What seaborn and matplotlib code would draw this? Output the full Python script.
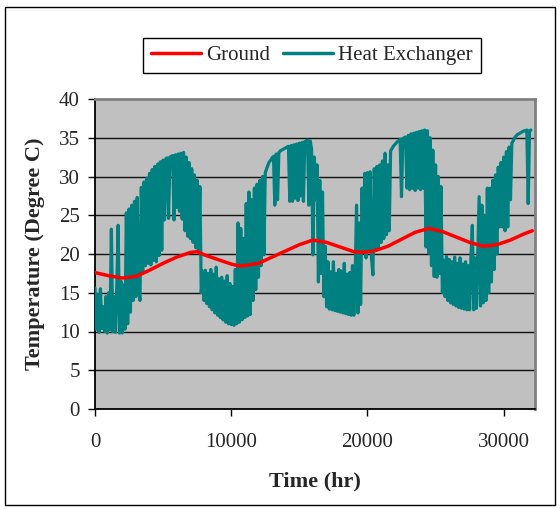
import numpy as np
import pandas as pd
import matplotlib
matplotlib.use("Agg")
import matplotlib.pyplot as plt
from matplotlib.patches import Rectangle
import seaborn as sns

# ---------------- data ----------------
ground_hours = [0, 1000, 2000, 3000, 4000, 5000, 6000, 7000, 7500, 8000,
                9000, 10000, 10500, 11000, 12000, 13000, 14000, 15000, 16000, 17000,
                18000, 19000, 19700, 20500, 21500, 22500, 23500, 24500, 25500, 26500,
                27500, 28500, 29500, 30500, 31500, 32100]
ground_temp = [17.6, 17.2, 16.9, 17.1, 17.9, 18.8, 19.6, 20.2, 20.3, 19.9,
               19.3, 18.7, 18.5, 18.5, 18.8, 19.6, 20.4, 21.2, 21.8, 21.5,
               20.9, 20.3, 20.2, 20.4, 21.0, 21.9, 22.8, 23.3, 22.9, 22.2,
               21.5, 21.0, 21.2, 21.8, 22.6, 23.0]

# heat exchanger temperature, one reading every 100 hours
hx_step_hours = 100
hx_temp = [
    15.6, 10.3, 14.8, 9.9, 15.5, 10.4, 13.2, 10.0, 14.5, 9.8,
    15.0, 10.2, 23.2, 10.0, 14.5, 9.9, 15.8, 23.7, 9.8, 16.5,
    9.8, 16.0, 10.3, 25.3, 11.0, 25.8, 12.5, 26.3, 14.0, 26.8,
    14.5, 27.3, 15.5, 14.0, 28.6, 17.5, 29.3, 18.5, 29.8, 18.8,
    30.4, 18.6, 30.9, 19.2, 31.3, 19.0, 31.6, 19.8, 31.9, 20.5,
    32.1, 24.4, 32.3, 32.4, 24.6, 32.5, 32.6, 32.7, 24.4, 32.8,
    26.0, 32.9, 25.5, 33.0, 24.5, 33.1, 23.0, 32.5, 22.3, 31.8,
    22.0, 31.0, 21.5, 30.2, 20.8, 29.5, 20.5, 28.7, 15.0, 17.8,
    14.0, 17.9, 13.6, 17.5, 13.2, 18.0, 12.8, 17.4, 12.4, 18.3,
    12.1, 16.8, 11.8, 17.0, 11.5, 16.5, 11.2, 17.2, 11.0, 16.2,
    10.9, 15.8, 10.8, 18.0, 11.0, 24.0, 11.2, 23.3, 11.5, 22.0,
    11.8, 26.5, 12.0, 28.0, 12.2, 27.0, 14.0, 28.5, 15.4, 29.0,
    17.0, 29.5, 18.5, 30.0, 19.9, 30.5, 31.0, 31.5, 31.9, 32.1,
    32.4, 32.6, 26.3, 32.9, 27.0, 33.1, 33.3, 33.4, 33.5, 33.6,
    33.7, 33.8, 33.9, 26.8, 34.0, 26.8, 34.1, 27.2, 34.2, 26.9,
    34.3, 27.5, 34.4, 26.8, 34.5, 34.6, 34.7, 26.3, 34.6, 33.5,
    19.9, 32.5, 27.0, 31.5, 16.4, 29.5, 17.5, 28.0, 14.5, 21.0,
    13.2, 19.0, 12.9, 17.7, 12.8, 19.0, 12.7, 17.5, 12.6, 18.0,
    12.5, 17.8, 12.4, 18.8, 12.3, 17.4, 12.2, 17.6, 12.1, 18.5,
    12.1, 17.0, 26.3, 12.4, 24.0, 13.5, 28.5, 20.5, 30.4, 19.5,
    30.5, 20.5, 30.6, 19.5, 17.3, 31.0, 20.5, 31.3, 20.8, 31.5,
    21.5, 32.0, 22.0, 33.0, 22.5, 31.5, 23.0, 33.3, 33.6, 33.9,
    34.1, 34.3, 34.5, 34.6, 34.8, 27.4, 34.9, 35.0, 35.1, 28.5,
    35.3, 28.3, 35.5, 28.5, 35.6, 28.2, 35.7, 28.5, 35.8, 28.3,
    35.9, 28.5, 36.0, 20.9, 35.9, 20.1, 35.0, 18.5, 33.4, 17.1,
    31.5, 17.0, 30.0, 17.5, 28.7, 15.0, 19.2, 14.5, 19.7, 14.0,
    19.3, 13.7, 19.0, 13.5, 19.6, 13.3, 18.8, 13.1, 19.5, 13.0,
    18.7, 12.9, 19.0, 12.8, 18.5, 12.8, 19.7, 23.7, 12.8, 19.5,
    13.0, 20.0, 27.4, 13.3, 26.3, 13.7, 25.0, 14.0, 28.5, 15.0,
    28.5, 16.4, 29.5, 18.0, 30.2, 20.0, 31.2, 23.5, 31.8, 23.5,
    32.5, 23.0, 33.2, 23.5, 33.8, 27.0, 34.3, 34.6, 35.0, 35.2,
    35.4, 35.5, 35.6, 35.7, 35.8, 35.9, 35.9, 36.0, 26.5, 35.9,
    36.0,
]
hx_hours = np.arange(len(hx_temp)) * hx_step_hours

series_names = ["Ground", "Heat Exchanger"]
series_colors = ["#FF0000", "#008080"]
x_ticks = [0, 10000, 20000, 30000]
y_ticks = [0, 5, 10, 15, 20, 25, 30, 35, 40]

# ---------------- style ----------------
sns.set_style("white")
plt.rcParams["font.family"] = ["Liberation Serif", "DejaVu Serif"]

W, H = 560, 509
fig = plt.figure(figsize=(W / 100, H / 100), dpi=100)
ax = fig.add_axes([95 / W, 1 - 409 / H, (535 - 95) / W, (409 - 99) / H])
ax.set_facecolor("#C0C0C0")

df_hx = pd.DataFrame({"hours": hx_hours, "temp": hx_temp})
df_gr = pd.DataFrame({"hours": ground_hours, "temp": ground_temp})

sns.lineplot(data=df_hx, x="hours", y="temp", ax=ax, color=series_colors[1],
             linewidth=2.3, estimator=None, sort=False, label=series_names[1], zorder=3)
sns.lineplot(data=df_gr, x="hours", y="temp", ax=ax, color=series_colors[0],
             linewidth=2.5, estimator=None, sort=False, label=series_names[0], zorder=4)

ax.set_xlim(0, 32300)
ax.set_ylim(0, 40)
ax.set_xticks(x_ticks)
ax.set_yticks(y_ticks)
ax.grid(False)
for yv in y_ticks[1:-1]:
    ax.axhline(yv, color="#111111", linewidth=1.0, zorder=1)

for side in ["left", "bottom"]:
    ax.spines[side].set_color("black")
    ax.spines[side].set_linewidth(1.3)
for side in ["top", "right"]:
    ax.spines[side].set_color("#808080")
    ax.spines[side].set_linewidth(2.0)
    ax.spines[side].set_visible(True)

ax.tick_params(axis="y", direction="out", length=5, width=1, color="black",
               labelsize=15, pad=6, left=True)
ax.tick_params(axis="x", direction="out", length=5, width=1, color="black",
               labelsize=15, pad=12, bottom=True)

ax.set_xlabel("Time (hr)", fontsize=16, fontweight="bold", labelpad=14)
ax.set_ylabel("Temperature (Degree C)", fontsize=16, fontweight="bold", labelpad=10)

handles, labels = ax.get_legend_handles_labels()
order = [labels.index(n) for n in series_names]
leg = ax.legend([handles[i] for i in order], [labels[i] for i in order],
                loc="center", bbox_to_anchor=(0.557, 0.891), bbox_transform=fig.transFigure,
                ncol=2, fontsize=15, frameon=True, fancybox=False, framealpha=1,
                edgecolor="black", handlelength=2.4, handletextpad=0.25,
                columnspacing=0.6, borderpad=0.38)
leg.get_frame().set_linewidth(1.0)
for line in leg.get_lines():
    line.set_linewidth(2.5)

fig.patches.append(Rectangle((5 / W, 4 / H), 550 / W, 498 / H, transform=fig.transFigure,
                             fill=False, edgecolor="black", linewidth=1.0))

fig.savefig("out.png", dpi=100)
